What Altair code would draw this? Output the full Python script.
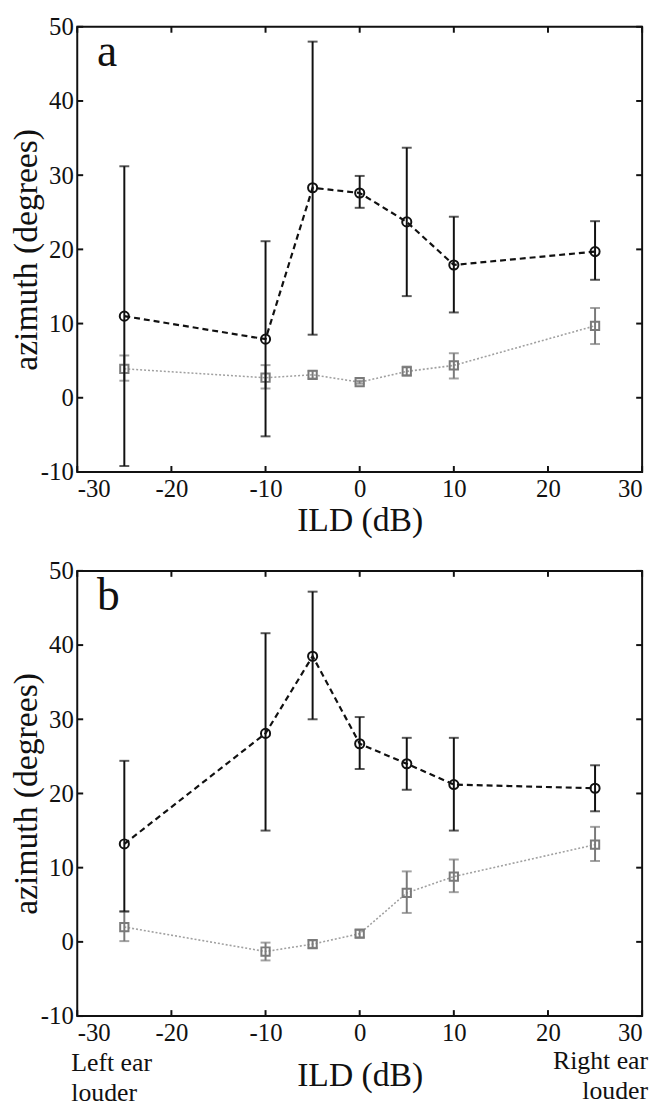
import altair as alt
import pandas as pd

# ---------------- data ----------------
ild = [-25, -10, -5, 0, 5, 10, 25]

a_black_mean = [11.0, 7.9, 28.3, 27.6, 23.7, 17.9, 19.7]
a_black_lo = [-9.2, -5.2, 8.5, 25.6, 13.7, 11.5, 15.9]
a_black_hi = [31.2, 21.1, 48.0, 29.9, 33.7, 24.4, 23.8]
a_gray_mean = [3.9, 2.7, 3.1, 2.1, 3.55, 4.36, 9.7]
a_gray_lo = [2.3, 1.25, 2.6, 1.9, 3.0, 2.6, 7.24]
a_gray_hi = [5.7, 4.4, 3.6, 2.3, 4.2, 6.0, 12.1]

b_black_mean = [13.2, 28.1, 38.5, 26.7, 24.0, 21.2, 20.7]
b_black_lo = [4.1, 15.0, 30.0, 23.3, 20.5, 15.0, 17.6]
b_black_hi = [24.4, 41.6, 47.2, 30.3, 27.5, 27.5, 23.8]
b_gray_mean = [2.0, -1.3, -0.3, 1.1, 6.6, 8.8, 13.1]
b_gray_lo = [0.1, -2.5, -0.8, 0.6, 3.9, 6.7, 10.9]
b_gray_hi = [4.1, -0.1, 0.2, 1.6, 9.5, 11.1, 15.5]

x_ticks = [-30, -20, -10, 0, 10, 20, 30]
y_ticks = [-10, 0, 10, 20, 30, 40, 50]
panel_letters = ["a", "b"]
side_left = ["Left ear", "louder"]
side_right = ["Right ear", "louder"]

# ---------------- styling ----------------
W, H = 571, 450
FONT = "Liberation Serif"
INK = "#111111"
TICK = 6


def panel(bm, bl, bh, gm, gl, gh, letter, title_pad, sides):
    df_b = pd.DataFrame({"ild": ild, "mean": bm, "lo": bl, "hi": bh})
    df_g = pd.DataFrame({"ild": ild, "mean": gm, "lo": gl, "hi": gh})
    xs = alt.Scale(domain=[-30, 30], nice=False, zero=False)
    ys = alt.Scale(domain=[-10, 50], nice=False, zero=False)
    xax = alt.Axis(values=x_ticks, title="ILD (dB)", ticks=False, tickSize=0,
                   domain=False, grid=False, labelFont=FONT, labelFontSize=25,
                   labelColor=INK, labelPadding=5, labelOverlap=False,
                   labelBound=False, labelExpr="'' + datum.value",
                   titleFont=FONT, titleFontSize=34, titleFontWeight="normal",
                   titleColor=INK, titlePadding=title_pad)
    yax = alt.Axis(values=y_ticks, title="azimuth (degrees)", ticks=False,
                   tickSize=0, domain=False, grid=False, labelFont=FONT,
                   labelFontSize=25, labelColor=INK, labelPadding=4,
                   labelOverlap=False, labelBound=False,
                   labelExpr="'' + datum.value",
                   titleFont=FONT, titleFontSize=34, titleFontWeight="normal",
                   titleColor=INK, titlePadding=-3)
    X = alt.X("ild:Q", scale=xs, axis=xax)
    Y = alt.Y("mean:Q", scale=ys, axis=yax)

    def series(df, color, line_color, dash, lw, shape, size):
        line = alt.Chart(df).mark_line(color=line_color, strokeDash=dash,
                                       strokeWidth=lw).encode(X, Y)
        bars = alt.Chart(df).mark_rule(color=color, strokeWidth=2).encode(
            X, alt.Y("lo:Q", scale=ys, axis=yax), alt.Y2("hi:Q"))
        cap_lo = alt.Chart(df).mark_tick(orient="horizontal", size=10,
                                         thickness=2, color=color).encode(
            X, alt.Y("lo:Q", scale=ys, axis=yax))
        cap_hi = alt.Chart(df).mark_tick(orient="horizontal", size=10,
                                         thickness=2, color=color).encode(
            X, alt.Y("hi:Q", scale=ys, axis=yax))
        pts = alt.Chart(df).mark_point(shape=shape, filled=False, color=color,
                                       size=size, strokeWidth=2,
                                       opacity=1).encode(X, Y)
        return [line, bars, cap_lo, cap_hi, pts]

    gray = series(df_g, "#7a7a7a", "#a0a0a0", [2, 2], 1.6, "square", 70)
    black = series(df_b, INK, INK, [6, 4], 2.2, "circle", 85)

    dx = pd.DataFrame({"v": x_ticks})
    dy = pd.DataFrame({"v": y_ticks})
    tick_layers = [
        alt.Chart(dx).mark_rule(color=INK, strokeWidth=2).encode(
            alt.X("v:Q", scale=xs, axis=xax), y=alt.value(H), y2=alt.value(H - TICK)),
        alt.Chart(dx).mark_rule(color=INK, strokeWidth=2).encode(
            alt.X("v:Q", scale=xs, axis=xax), y=alt.value(0), y2=alt.value(TICK)),
        alt.Chart(dy).mark_rule(color=INK, strokeWidth=2).encode(
            alt.Y("v:Q", scale=ys, axis=yax), x=alt.value(0), x2=alt.value(TICK)),
        alt.Chart(dy).mark_rule(color=INK, strokeWidth=2).encode(
            alt.Y("v:Q", scale=ys, axis=yax), x=alt.value(W), x2=alt.value(W - TICK)),
    ]

    letter_layer = alt.Chart(pd.DataFrame({"t": [letter]})).mark_text(
        font=FONT, fontSize=46, align="left", baseline="alphabetic",
        color=INK).encode(x=alt.value(20), y=alt.value(40), text="t:N")

    layers = gray + black + tick_layers + [letter_layer]

    if sides:
        left_df = pd.DataFrame({"t": [side_left]})
        right_df = pd.DataFrame({"t": [side_right]})
        layers.append(alt.Chart(left_df).mark_text(
            font=FONT, fontSize=26, align="left", baseline="top",
            lineHeight=30, color=INK).encode(
            x=alt.value(-6), y=alt.value(H + 35), text="t"))
        layers.append(alt.Chart(right_df).mark_text(
            font=FONT, fontSize=26, align="right", baseline="top",
            lineHeight=30, color=INK).encode(
            x=alt.value(W + 6), y=alt.value(H + 33), text="t"))

    return alt.layer(*layers).properties(width=W, height=H)


top = panel(a_black_mean, a_black_lo, a_black_hi, a_gray_mean, a_gray_lo,
            a_gray_hi, panel_letters[0], 2, False)
bottom = panel(b_black_mean, b_black_lo, b_black_hi, b_gray_mean, b_gray_lo,
               b_gray_hi, panel_letters[1], 13, True)

chart = alt.vconcat(top, bottom, spacing=20).properties(
    padding={"left": 0, "top": 0, "right": 5, "bottom": 0},
    background="white",
).configure_view(stroke=INK, strokeWidth=2)

chart.save("out.html", embed_options={"renderer": "svg", "actions": False})
